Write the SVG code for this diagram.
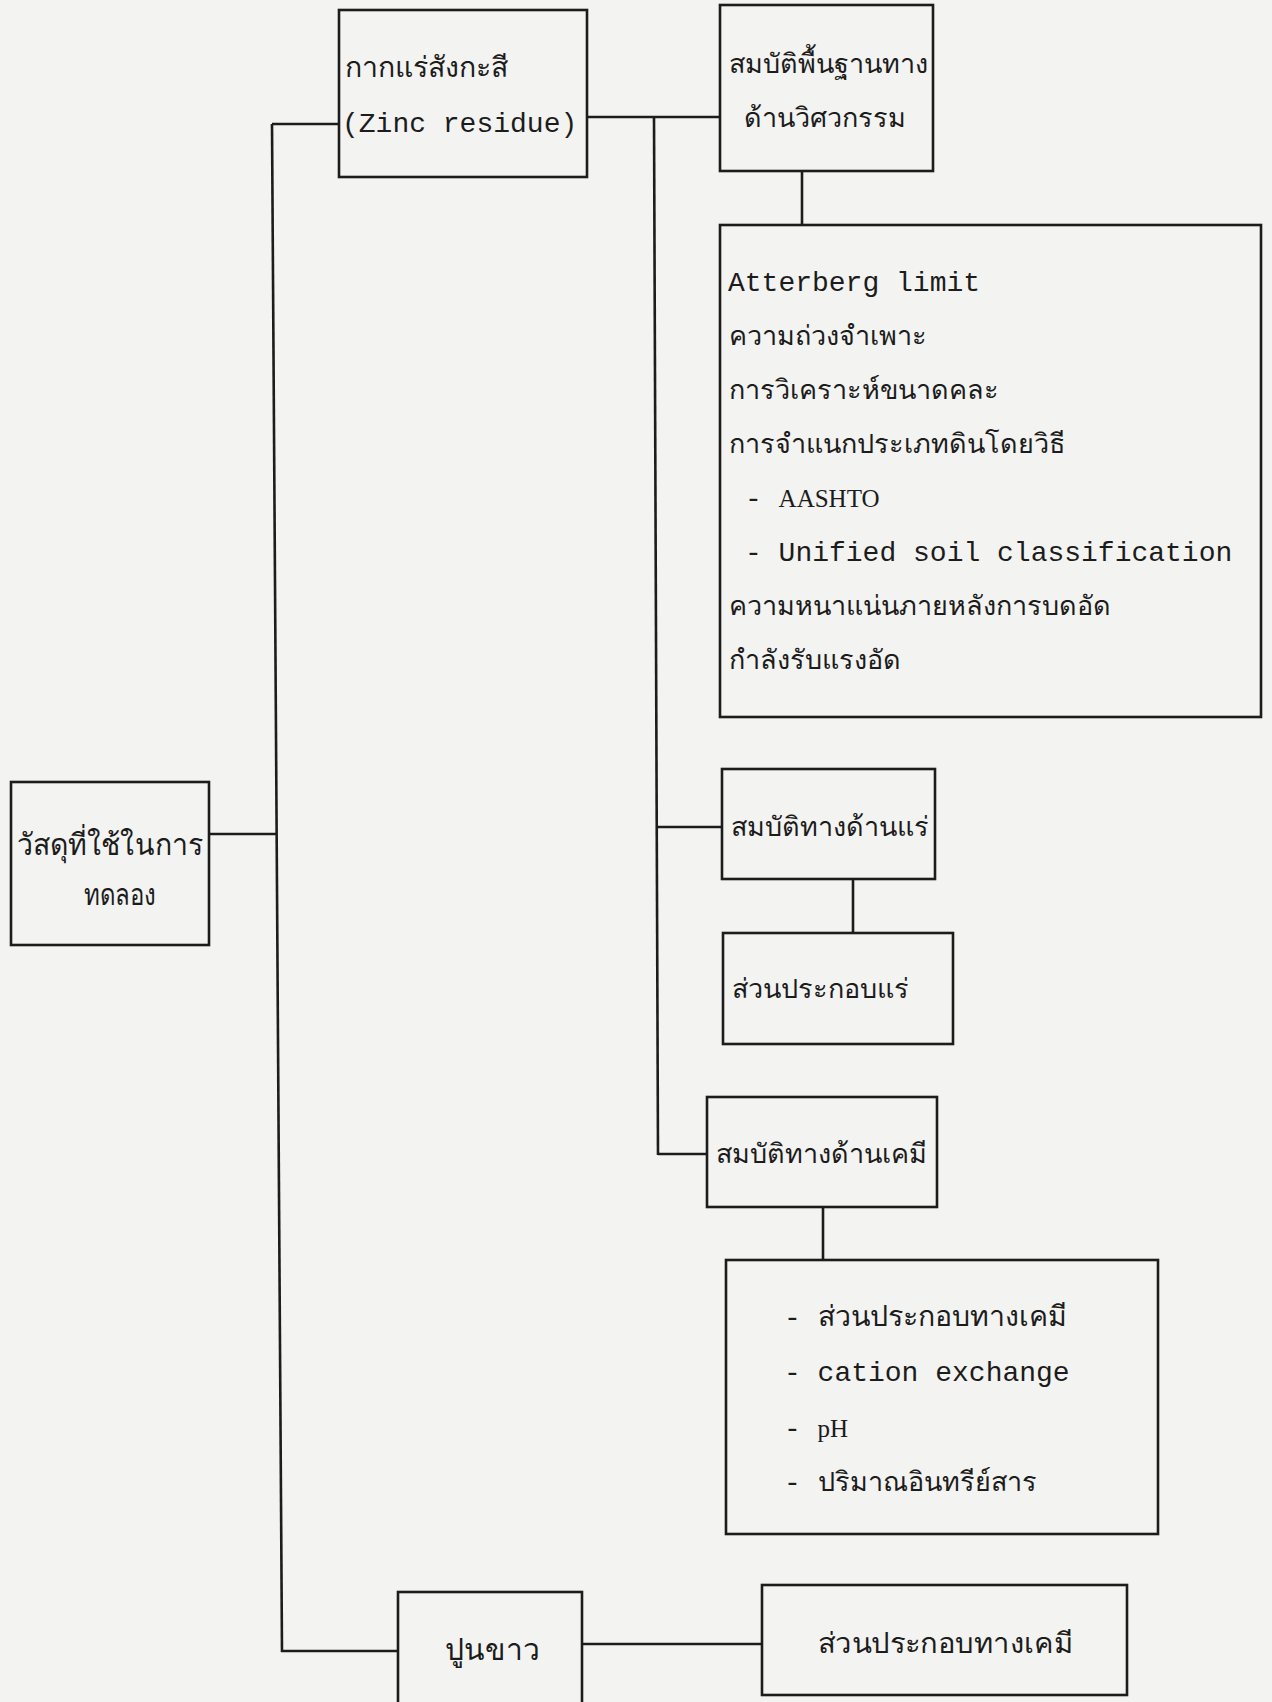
<svg xmlns="http://www.w3.org/2000/svg" width="1272" height="1702" viewBox="0 0 1272 1702">
<style>
.bg{fill:#f3f3f1}
.box{fill:none;stroke:#1c1c1c;stroke-width:2.6}
.ln{fill:none;stroke:#1c1c1c;stroke-width:2.6}
text{fill:#1c1c1c}
.th{font-family:"Noto Sans","DejaVu Sans",sans-serif;font-size:27px}
.thl{font-family:"Noto Sans","DejaVu Sans",sans-serif;font-size:28.5px}
.thb{font-family:"Noto Sans","DejaVu Sans",sans-serif;font-size:30px;font-weight:500}
.mono{font-family:"Liberation Mono",monospace;font-size:28px}
.serif{font-family:"Liberation Serif",serif;font-size:25px}
</style>
<rect class="bg" x="0" y="0" width="1272" height="1702"/>
<g id="connectors">
<line class="ln" x1="272" y1="124" x2="282" y2="1652"/>
<line class="ln" x1="272" y1="124" x2="339" y2="124"/>
<line class="ln" x1="209" y1="834" x2="277" y2="834"/>
<line class="ln" x1="281" y1="1651" x2="398" y2="1651"/>
<line class="ln" x1="587" y1="117" x2="720" y2="117"/>
<line class="ln" x1="654" y1="117" x2="658" y2="1155"/>
<line class="ln" x1="802" y1="170" x2="802" y2="225"/>
<line class="ln" x1="657" y1="827" x2="722" y2="827"/>
<line class="ln" x1="853" y1="879" x2="853" y2="933"/>
<line class="ln" x1="658" y1="1154" x2="707" y2="1154"/>
<line class="ln" x1="823" y1="1207" x2="823" y2="1260"/>
<line class="ln" x1="582" y1="1644" x2="762" y2="1644"/>
</g>
<g id="node-main">
<rect class="box" x="11" y="782" width="198" height="163"/>
<text class="thb" x="17" y="855" textLength="186" lengthAdjust="spacingAndGlyphs">วัสดุที่ใช้ในการ</text>
<text class="thb" x="120" y="905" text-anchor="middle" font-size="27" textLength="72" lengthAdjust="spacingAndGlyphs">ทดลอง</text>
</g>
<g id="node-zinc">
<rect class="box" x="339" y="10" width="248" height="167"/>
<text class="thl" x="345" y="77">กากแร่สังกะสี</text>
<text class="mono" x="342" y="132">(Zinc residue)</text>
</g>
<g id="node-eng">
<rect class="box" x="720" y="5" width="213" height="166"/>
<text class="th" x="729" y="73">สมบัติพื้นฐานทาง</text>
<text class="th" x="744" y="127">ด้านวิศวกรรม</text>
</g>
<g id="node-eng-list">
<rect class="box" x="720" y="225" width="541" height="492"/>
<text class="mono" x="728" y="291">Atterberg limit</text>
<text class="th" x="729" y="345">ความถ่วงจำเพาะ</text>
<text class="th" x="729" y="399">การวิเคราะห์ขนาดคละ</text>
<text class="th" x="729" y="453">การจำแนกประเภทดินโดยวิธี</text>
<text x="745" y="507"><tspan class="mono">- </tspan><tspan class="serif">AASHTO</tspan></text>
<text class="mono" x="745" y="561">- Unified soil classification</text>
<text class="th" x="729" y="615">ความหนาแน่นภายหลังการบดอัด</text>
<text class="th" x="729" y="669">กำลังรับแรงอัด</text>
</g>
<g id="node-mineral">
<rect class="box" x="722" y="769" width="213" height="110"/>
<text class="th" x="731" y="836">สมบัติทางด้านแร่</text>
</g>
<g id="node-mineral-comp">
<rect class="box" x="723" y="933" width="230" height="111"/>
<text class="th" x="732" y="998">ส่วนประกอบแร่</text>
</g>
<g id="node-chem">
<rect class="box" x="707" y="1097" width="230" height="110"/>
<text class="th" x="716" y="1163">สมบัติทางด้านเคมี</text>
</g>
<g id="node-chem-list">
<rect class="box" x="726" y="1260" width="432" height="274"/>
<text x="784" y="1326"><tspan class="mono">- </tspan><tspan class="thl">ส่วนประกอบทางเคมี</tspan></text>
<text class="mono" x="784" y="1381">- cation exchange</text>
<text x="784" y="1437"><tspan class="mono">- </tspan><tspan class="serif">pH</tspan></text>
<text x="784" y="1491"><tspan class="mono">- </tspan><tspan class="th">ปริมาณอินทรีย์สาร</tspan></text>
</g>
<g id="node-lime">
<rect class="box" x="398" y="1592" width="184" height="120"/>
<text class="thb" x="492" y="1660" text-anchor="middle">ปูนขาว</text>
</g>
<g id="node-lime-comp">
<rect class="box" x="762" y="1585" width="365" height="110"/>
<text class="thl" x="818" y="1653" textLength="255" lengthAdjust="spacingAndGlyphs">ส่วนประกอบทางเคมี</text>
</g>
</svg>
